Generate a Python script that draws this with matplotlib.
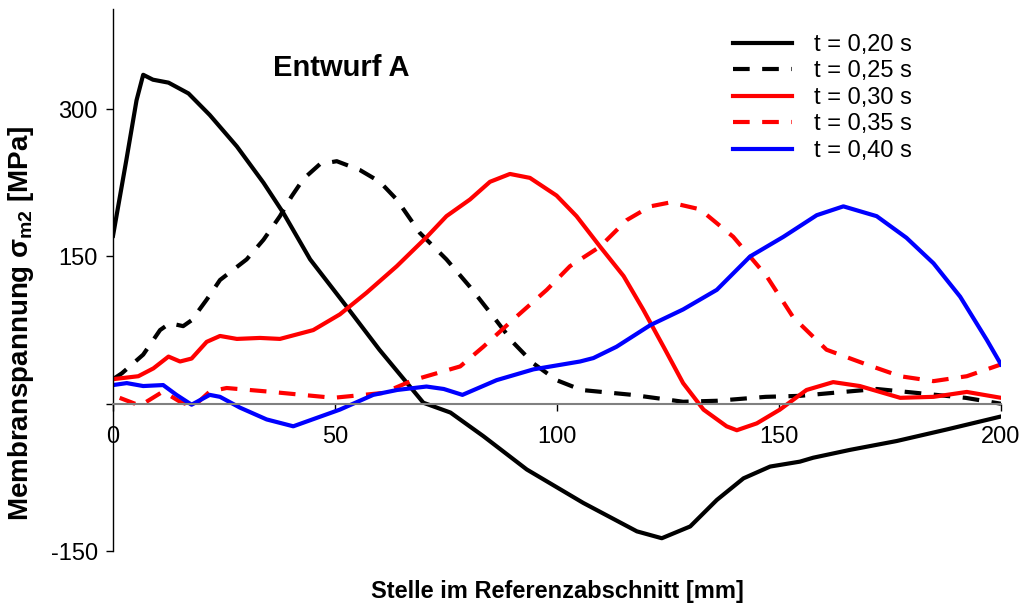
import matplotlib
matplotlib.use("Agg")
import matplotlib.pyplot as plt

plt.rcParams['font.family'] = ['Liberation Sans', 'DejaVu Sans']
plt.rcParams['mathtext.fontset'] = 'custom'
plt.rcParams['mathtext.rm'] = 'Liberation Sans:bold'
plt.rcParams['mathtext.it'] = 'Liberation Sans:bold'
plt.rcParams['mathtext.bf'] = 'Liberation Sans:bold'

labels = ["t = 0,20 s", "t = 0,25 s", "t = 0,30 s", "t = 0,35 s", "t = 0,40 s"]

x_t20 = [0, 3, 5.3, 6.8, 9, 12.5, 17, 21.8, 27.9, 33.9, 38.4, 44.4, 52.6, 60, 69.9, 76, 83.4,
         93.2, 105.9, 118, 123.6, 130, 136, 142, 148, 154.7, 157.7, 166, 176.5, 188, 200]
y_t20 = [171, 248, 309, 335, 330, 327, 316, 294, 262, 225, 194, 147, 99, 55, 1, -9, -33,
         -67, -101, -130, -137, -125, -98, -76, -64, -59, -55, -47, -38, -26, -13]

x_t25 = [0, 2, 6.8, 10.6, 12.8, 15.8, 17.7, 21.1, 24.1, 30.1, 33.9, 37.6, 40.2, 42.9, 46.6, 50.4,
         55.6, 60.1, 63.9, 69.1, 75.1, 80.4, 85.6, 90.2, 94.7, 99.9, 105.5, 117, 128.4, 136, 147,
         154.7, 162, 172, 181, 192, 200]
y_t25 = [25, 31, 50, 75, 82, 79, 85, 106, 126, 147, 167, 191, 211, 229, 244, 247,
         238, 226, 208, 174, 147, 119, 89, 62, 41, 24, 14, 9, 2, 3, 7,
         8, 11, 15, 11, 6, 0]

x_t30 = [0, 5.7, 9.1, 12.5, 15.1, 17.7, 21.1, 24.1, 27.9, 33.1, 37.6, 45.1, 51.1, 57.1, 63.9, 70.7,
         75.1, 80.4, 84.9, 89.4, 93.9, 99.9, 104.4, 109.7, 115, 119.4, 124, 128.4, 133, 138.2, 140.5,
         145, 150.2, 156.2, 162.2, 168.2, 177.3, 184.8, 192.3, 200]
y_t30 = [25, 28, 36, 48, 43, 46, 63, 69, 66, 67, 66, 75, 91, 113, 140, 170,
         191, 208, 226, 234, 230, 212, 191, 160, 130, 96, 58, 21, -6, -23, -27,
         -20, -6, 14, 22, 18, 6, 7, 12, 6]

x_t35 = [1.5, 6.1, 11.3, 15.1, 18.1, 21.8, 25.6, 34.6, 49.6, 60.9, 67.6, 78.2, 83.4, 90.2, 97.7,
         102.9, 109.7, 115.7, 121, 125.5, 132.2, 139.7, 147.2, 153.2, 160.7, 169.7, 177.3, 184.8,
         192.3, 200]
y_t35 = [6, -2, 12.5, 2, -3, 12.5, 16, 12.5, 6, 11, 24, 38, 58, 86, 116,
         140, 160, 187, 201, 205, 198, 170, 130, 88, 55, 40, 28, 23,
         28, 40]

x_t40 = [0, 3.1, 6.8, 11.3, 14.3, 17.7, 21.8, 24.1, 28.6, 34.6, 40.6, 51.1, 58.6, 64, 70.6, 74.5,
         78.7, 86.4, 94.7, 105.2, 108.2, 113.4, 121, 128.4, 136, 143.5, 151, 158.5, 164.5, 172,
         178.7, 184.8, 190.8, 196.8, 200]
y_t40 = [19, 21, 18, 19, 9, -1, 9, 7, -4, -16, -23, -6, 9, 14, 17.5, 15,
         9, 24, 35, 43, 46.5, 58, 80, 96, 116, 150, 170, 192, 201, 191,
         169, 143, 109, 65, 40]

x_ticks = [0, 50, 100, 150, 200]
y_ticks = [-150, 0, 150, 300]
y_ticklabels = ["-150", "", "150", "300"]

fig = plt.figure(figsize=(10.24, 6.10), dpi=100)
ax = fig.add_axes([113/1024, 1-551/610, 888/1024, 542/610])

lw = 3
ax.plot(x_t20, y_t20, color='black', lw=lw, label=labels[0])
ax.plot(x_t25, y_t25, color='black', lw=lw, dashes=(4, 3), label=labels[1])
ax.plot(x_t30, y_t30, color='#ff0000', lw=lw, label=labels[2])
ax.plot(x_t35, y_t35, color='#ff0000', lw=lw, dashes=(4, 3), label=labels[3])
ax.plot(x_t40, y_t40, color='#0000ff', lw=lw, label=labels[4])

ax.set_xlim(0, 200)
ax.set_ylim(-150, 402)
ax.spines['top'].set_visible(False)
ax.spines['right'].set_visible(False)
ax.spines['bottom'].set_position(('data', 0))
ax.spines['bottom'].set_color('#808080')
ax.spines['bottom'].set_linewidth(1.5)
ax.spines['left'].set_linewidth(1.0)

ax.set_xticks(x_ticks)
ax.set_xticklabels([str(v) for v in x_ticks])
ax.set_yticks(y_ticks)
ax.set_yticklabels(y_ticklabels)
ax.tick_params(axis='both', direction='out', length=5, width=1, labelsize=17, colors='black')
ax.tick_params(axis='x', pad=11)
ax.tick_params(axis='y', pad=6)

ax.set_xlabel("Stelle im Referenzabschnitt [mm]", fontsize=17, fontweight='bold')
ax.xaxis.set_label_coords(0.5, -0.053)
ax.set_ylabel(r"Membranspannung $\sigma_{\mathrm{m2}}$ [MPa]", fontsize=20, fontweight='bold')
ax.yaxis.set_label_coords(-0.087, 0.42)

fig.text(273/1024, 1-68/610, "Entwurf A", fontsize=21, fontweight='bold', va='center', ha='left')

leg = ax.legend(loc='upper left', bbox_to_anchor=(733/1024, 1-34/610), bbox_transform=fig.transFigure,
                frameon=False, fontsize=17, handlelength=2.5, handletextpad=0.95,
                labelspacing=0.19, borderpad=0, borderaxespad=0)

fig.savefig("out.png", dpi=100)
